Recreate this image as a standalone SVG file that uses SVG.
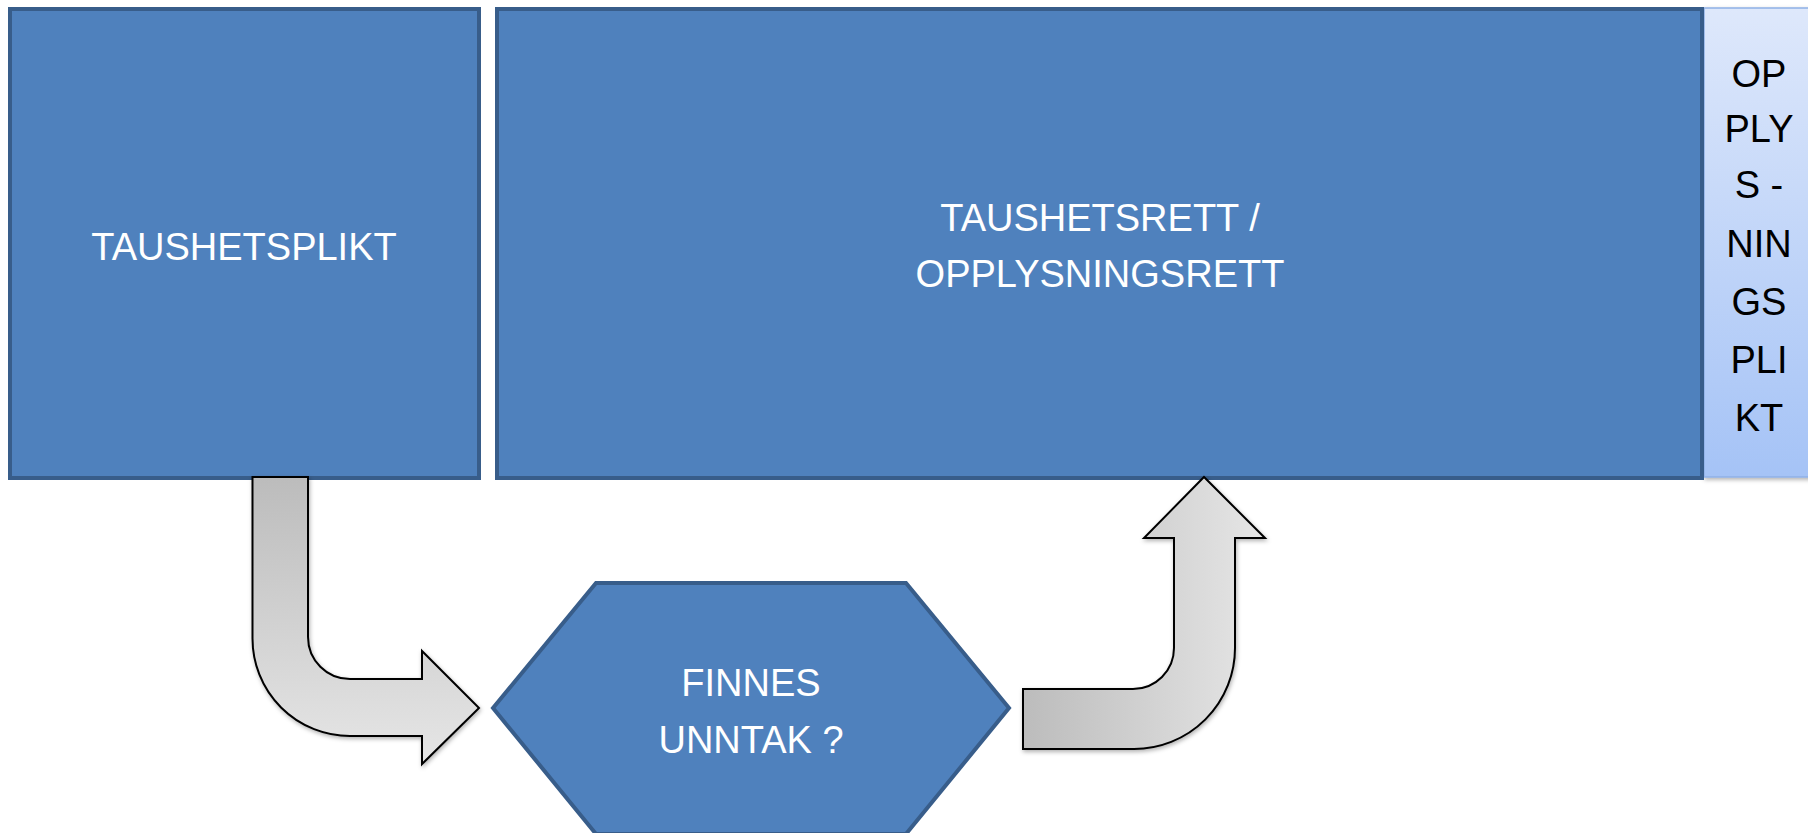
<svg xmlns="http://www.w3.org/2000/svg" width="1808" height="833" viewBox="0 0 1808 833">
<defs>
<style>
.box{fill:#4f81bd;stroke:#385d8a;stroke-width:4}
.wt{fill:#ffffff;font-family:"Liberation Sans",Arial,sans-serif;font-size:38px;text-anchor:middle}
.bt{fill:#000000;font-family:"Liberation Sans",Arial,sans-serif;font-size:38px;text-anchor:middle}
.arrow{stroke:#000000;stroke-width:2;stroke-linejoin:miter}
</style>
<linearGradient id="gDown" x1="0" y1="0" x2="0" y2="1">
<stop offset="0" stop-color="#bcbcbc"/>
<stop offset="1" stop-color="#e6e6e6"/>
</linearGradient>
<linearGradient id="gRight" x1="0" y1="0" x2="1" y2="0">
<stop offset="0" stop-color="#bcbcbc"/>
<stop offset="1" stop-color="#e6e6e6"/>
</linearGradient>
<linearGradient id="gPanel" x1="0" y1="0" x2="0" y2="1">
<stop offset="0" stop-color="#dee8fb"/>
<stop offset="1" stop-color="#a5c3f6"/>
</linearGradient>
<filter id="sh" x="-10%" y="-10%" width="130%" height="130%">
<feDropShadow dx="1" dy="2" stdDeviation="2" flood-color="#000000" flood-opacity="0.3"/>
</filter>
</defs>

<g id="node-opplysningsplikt">
<rect x="1704" y="8" width="110" height="469" fill="url(#gPanel)" stroke="#8fb0e6" stroke-width="1.5" filter="url(#sh)"/>
<text class="bt" x="1759" y="87">OP</text>
<text class="bt" x="1759" y="142">PLY</text>
<text class="bt" x="1759" y="198">S -</text>
<text class="bt" x="1759" y="257">NIN</text>
<text class="bt" x="1759" y="315">GS</text>
<text class="bt" x="1759" y="373">PLI</text>
<text class="bt" x="1759" y="431">KT</text>
</g>

<g id="node-taushetsplikt">
<rect class="box" x="10" y="9" width="469" height="469"/>
<text class="wt" x="244" y="260">TAUSHETSPLIKT</text>
</g>

<g id="node-taushetsrett">
<rect class="box" x="497" y="9" width="1205" height="469"/>
<text class="wt" x="1100" y="231">TAUSHETSRETT /</text>
<text class="wt" x="1100" y="287">OPPLYSNINGSRETT</text>
</g>

<g id="node-finnes-unntak">
<polygon class="box" points="493,708 596,583 906,583 1009,708 906,834 596,834"/>
<text class="wt" x="751" y="696">FINNES</text>
<text class="wt" x="751" y="753">UNNTAK ?</text>
</g>

<g id="connectors">
<path class="arrow" fill="url(#gDown)" filter="url(#sh)" d="M 252.5 477 L 308 477 L 308 637 A 42 42 0 0 0 350 679 L 422 679 L 422 651 L 479 708 L 422 764 L 422 736 L 350 736 A 97.5 97.5 0 0 1 252.5 638.5 Z"/>
<path class="arrow" fill="url(#gRight)" filter="url(#sh)" d="M 1023 689 L 1133 689 A 41 41 0 0 0 1174 648 L 1174 538 L 1144 538 L 1204 477 L 1265 538 L 1235 538 L 1235 648 A 101 101 0 0 1 1134 749 L 1023 749 Z"/>
</g>
</svg>
